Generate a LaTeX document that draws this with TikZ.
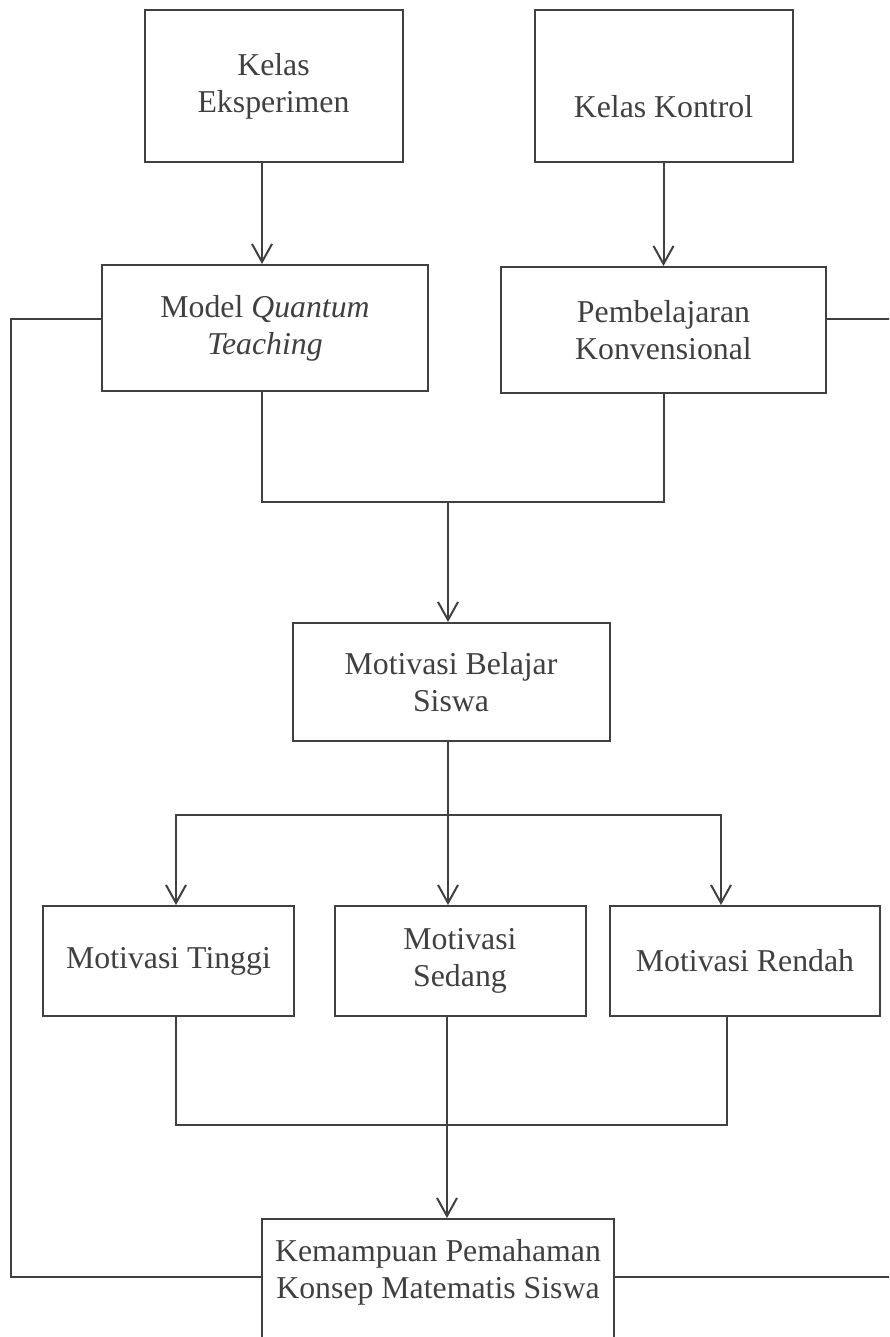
\documentclass[tikz,border=0pt]{standalone}
\usepackage{fontspec}
\setmainfont{Liberation Serif}
\usetikzlibrary{arrows.meta}
\definecolor{garis}{HTML}{404040}
\tikzset{every node/.style={align=center}, >={Straight Barb[length=9pt,width=10pt]}, font=\fontsize{15.9}{18.5}\selectfont,
  kotak/.style={draw, rectangle, inner sep=0pt}}

\begin{document}
\begin{tikzpicture}[x=0.5pt, y=-0.5pt, line width=1pt, color=garis]
            \useasboundingbox (0,0) rectangle (889,1337);
            \clip (0,0) rectangle (889,1337);

            \node [kotak, minimum width=129pt, minimum height=76pt] (ke) at (273.5,86) {Kelas\\Eksperimen};
            \node [kotak, minimum width=129pt, minimum height=76pt] (kk) at (663.5,86) {\strut\\Kelas Kontrol};
            \node [kotak, minimum width=163pt, minimum height=63pt] (mqt) at (265,328) {Model \textit{Quantum}\\\textit{Teaching}};
            \node [kotak, minimum width=162.5pt, minimum height=63pt] (pk) at (663.5,330) {Pembelajaran\\Konvensional};
            \node [kotak, minimum width=158.5pt, minimum height=59pt] (mbs) at (451,682) {Motivasi Belajar\\Siswa};
            \node [kotak, minimum width=125.5pt, minimum height=55pt] (mt) at (168.5,961) {Motivasi Tinggi};
            \node [kotak, minimum width=125.5pt, minimum height=55pt] (ms) at (460,961) {Motivasi\\Sedang};
            \node [kotak, minimum width=135pt, minimum height=55pt] (mr) at (745,961) {Motivasi Rendah};
            \node [kotak, minimum width=176pt, minimum height=74pt] (kp) at (438,1293) {Kemampuan Pemahaman\\Konsep Matematis Siswa\\\strut};

            % titik bantu
            \coordinate (xa) at (262,0);
            \coordinate (xd) at (176,0);
            \coordinate (xe) at (721,0);
            \coordinate (xg) at (727,0);
            \coordinate (xh) at (11,0);
            \coordinate (xi) at (900,0);
            \coordinate (ysamping) at (0,319);
            \coordinate (ybawah) at (0,1277);
            \coordinate (gabung1) at (448,502);
            \coordinate (cabang) at (448,815);
            \coordinate (gabung2) at (447,1125);

            \draw[->] (ke.south -| xa) -- (mqt.north -| xa);
            \draw[->] (kk) -- (pk);
            \draw (mqt.south -| xa) |- (gabung1) -| (pk.south);
            \draw[->] (gabung1) -- (mbs.north -| gabung1);
            \draw (mbs.south -| cabang) -- (cabang);
            \draw[->] (cabang) -| (mt.north -| xd);
            \draw[->] (cabang) -- (ms.north -| cabang);
            \draw[->] (cabang) -| (mr.north -| xe);
            \draw (mt.south -| xd) |- (gabung2) -| (mr.south -| xg);
            \draw[->] (ms.south -| gabung2) -- (kp.north -| gabung2);
            \draw (mqt.west |- ysamping) -- (xh |- ysamping) -- (xh |- ybawah) -- (kp.west |- ybawah);
            \draw (pk.east |- ysamping) -- (xi |- ysamping) -- (xi |- ybawah) -- (kp.east |- ybawah);

        \end{tikzpicture}
\end{document}
